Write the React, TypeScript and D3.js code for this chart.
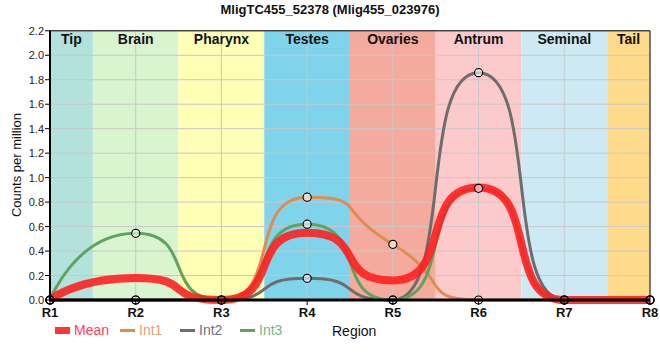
import React from "react";
import * as d3 from "d3";

const regions = ["R1", "R2", "R3", "R4", "R5", "R6", "R7", "R8"];
const bandNames = ["Tip", "Brain", "Pharynx", "Testes", "Ovaries", "Antrum", "Seminal", "Tail"];
const bandColors = ["#b3e2dd", "#d8f5cf", "#ffffb5", "#7fd3ea", "#f4ab9d", "#fdcacb", "#cdeaf4", "#fedb8b"];
const meanValues = [0, 0.18, 0, 0.55, 0.16, 0.92, 0, 0];
const int1Values = [0, 0, 0, 0.84, 0.455, 0, 0, 0];
const int2Values = [0, 0, 0, 0.177, 0, 1.858, 0, 0];
const int3Values = [0, 0.545, 0, 0.62, 0, 0.913, 0, 0];
const yTicks = [0, 0.2, 0.4, 0.6, 0.8, 1.0, 1.2, 1.4, 1.6, 1.8, 2.0, 2.2];
const seriesNames = ["Mean", "Int1", "Int2", "Int3"];
const seriesColors = ["#ff2020", "#e08c4e", "#6d6d6d", "#5ea35e"];
const legendTextColors = ["#ff4060", "#eba070", "#6f7080", "#72b882"];

const W = 660, H = 360;
const L = 50, R = 650, T = 30.8, B = 300;
const HANDLE = 0.7;

// Bezier spline: horizontal tangents at local extrema, central-difference slope elsewhere.
class SmoothSpline {
  _context: any;
  _pts: [number, number][] = [];
  constructor(context: any) {
    this._context = context;
  }
  areaStart() {}
  areaEnd() {}
  lineStart() {
    this._pts = [];
  }
  point(x: number, y: number) {
    this._pts.push([+x, +y]);
  }
  lineEnd() {
    const p = this._pts;
    const ctx = this._context;
    const n = p.length;
    if (!n) return;
    const k = HANDLE;
    const left: ([number, number] | null)[] = new Array(n).fill(null);
    const right: ([number, number] | null)[] = new Array(n).fill(null);
    for (let i = 1; i < n - 1; i++) {
      const [px, py] = p[i];
      const [lx, ly] = p[i - 1];
      const [nx, ny] = p[i + 1];
      const lcx = px - k * (px - lx);
      let lcy = py - k * (py - ly);
      const rcx = px + k * (nx - px);
      let rcy = py + k * (ny - py);
      let corr = 0;
      if (rcx !== lcx) corr = ((rcy - lcy) * (rcx - px)) / (rcx - lcx) + py - rcy;
      lcy += corr;
      rcy += corr;
      if (lcy > ly && lcy > py) {
        lcy = Math.max(ly, py);
        rcy = 2 * py - lcy;
      } else if (lcy < ly && lcy < py) {
        lcy = Math.min(ly, py);
        rcy = 2 * py - lcy;
      }
      if (rcy > ny && rcy > py) {
        rcy = Math.max(ny, py);
        lcy = 2 * py - rcy;
      } else if (rcy < ny && rcy < py) {
        rcy = Math.min(ny, py);
        lcy = 2 * py - rcy;
      }
      left[i] = [lcx, lcy];
      right[i] = [rcx, rcy];
    }
    ctx.moveTo(p[0][0], p[0][1]);
    for (let i = 1; i < n; i++) {
      const c1 = right[i - 1] || p[i - 1];
      const c2 = left[i] || p[i];
      ctx.bezierCurveTo(c1[0], c1[1], c2[0], c2[1], p[i][0], p[i][1]);
    }
  }
}
const curveSmooth = (context: any) => new SmoothSpline(context);

export default function App() {
  const x = d3.scalePoint<string>().domain(regions).range([L, R]);
  const y = d3.scaleLinear().domain([0, 2.2]).range([B, T]);
  const step = x.step();
  const line = d3
    .line<number>()
    .x((_, i) => x(regions[i]) as number)
    .y((d) => y(d))
    .curve(curveSmooth as any);

  const intSeries = [int1Values, int2Values, int3Values];
  const font = "'Liberation Sans', Arial, sans-serif";

  const legendX = [55, 120, 180, 240];

  return (
    <svg width={W} height={H} style={{ position: "absolute", left: 0, top: 0, background: "#fff" }} fontFamily={font}>
      <text x={330} y={14} textAnchor="middle" fontWeight="bold" fontSize={13} fill="#111">
        MligTC455_52378 (Mlig455_023976)
      </text>
      {bandNames.map((name, i) => {
        const cx = x(regions[i]) as number;
        const x0 = Math.max(L, cx - step / 2);
        const x1 = Math.min(R, cx + step / 2);
        return <rect key={name} x={x0} y={T} width={x1 - x0} height={B - T} fill={bandColors[i]} />;
      })}
      {yTicks.slice(1).map((t) => (
        <line key={t} x1={L} x2={R} y1={y(t)} y2={y(t)} stroke="#c8c8c8" strokeWidth={1} />
      ))}
      {regions.slice(1, -1).map((r) => (
        <line key={r} x1={x(r)} x2={x(r)} y1={T} y2={B} stroke="#c8c8c8" strokeWidth={1} />
      ))}
      {bandNames.map((name, i) => {
        const cx = x(regions[i]) as number;
        const x0 = Math.max(L, cx - step / 2);
        const x1 = Math.min(R, cx + step / 2);
        return (
          <text key={name} x={(x0 + x1) / 2} y={44} textAnchor="middle" fontWeight="bold" fontSize={14} fill="#111">
            {name}
          </text>
        );
      })}
      <line x1={L} x2={R} y1={T} y2={T} stroke="#000" strokeWidth={1} />
      <line x1={R} x2={R} y1={T} y2={B} stroke="#000" strokeWidth={1} />
      {intSeries.map((vals, i) => (
        <path key={i} d={line(vals) || ""} fill="none" stroke={seriesColors[i + 1]} strokeWidth={3} />
      ))}
      <path d={line(meanValues) || ""} fill="none" stroke={seriesColors[0]} strokeOpacity={0.9} strokeWidth={8} />
      <line x1={L} x2={L} y1={T} y2={B + 1} stroke="#000" strokeWidth={2} />
      <line x1={L - 1} x2={R} y1={B} y2={B} stroke="#000" strokeWidth={3} />
      {yTicks.map((t) => (
        <g key={t}>
          <line x1={L - 5} x2={L} y1={y(t)} y2={y(t)} stroke="#000" strokeWidth={1} />
          <text x={L - 6} y={y(t) + 4} textAnchor="end" fontSize={11} fill="#222">
            {t.toFixed(1)}
          </text>
        </g>
      ))}
      {regions.map((r) => (
        <g key={r}>
          <line x1={x(r)} x2={x(r)} y1={B} y2={B + 5} stroke="#000" strokeWidth={1} />
          <text x={x(r)} y={317} textAnchor="middle" fontWeight="bold" fontSize={13} fill="#111">
            {r}
          </text>
        </g>
      ))}
      {intSeries.map((vals, i) =>
        vals.map((v, j) => (
          <circle key={`${i}-${j}`} cx={x(regions[j])} cy={y(v)} r={4} fill="none" stroke="#000" strokeWidth={1.2} />
        ))
      )}
      {intSeries.map((vals, i) =>
        vals.map((v, j) =>
          v > 0 ? (
            <circle key={`f${i}-${j}`} cx={x(regions[j])} cy={y(v)} r={3.4} fill="#fff" fillOpacity={0.6} />
          ) : null
        )
      )}
      <text x={17} y={165} transform="rotate(-90 17 165)" textAnchor="middle" fontSize={13} fill="#111" dy={4}>
        Counts per million
      </text>
      {seriesNames.map((n, i) => (
        <g key={n}>
          {i === 0 ? (
            <rect x={legendX[i]} y={327} width={15} height={7} fill={seriesColors[0]} opacity={0.9} />
          ) : (
            <line x1={legendX[i]} x2={legendX[i] + 15} y1={330.5} y2={330.5} stroke={seriesColors[i]} strokeWidth={3} />
          )}
          <text x={legendX[i] + 19} y={335} fontSize={14} fill={legendTextColors[i]}>
            {n}
          </text>
        </g>
      ))}
      <text x={332} y={336} fontSize={14} fill="#111">
        Region
      </text>
    </svg>
  );
}
